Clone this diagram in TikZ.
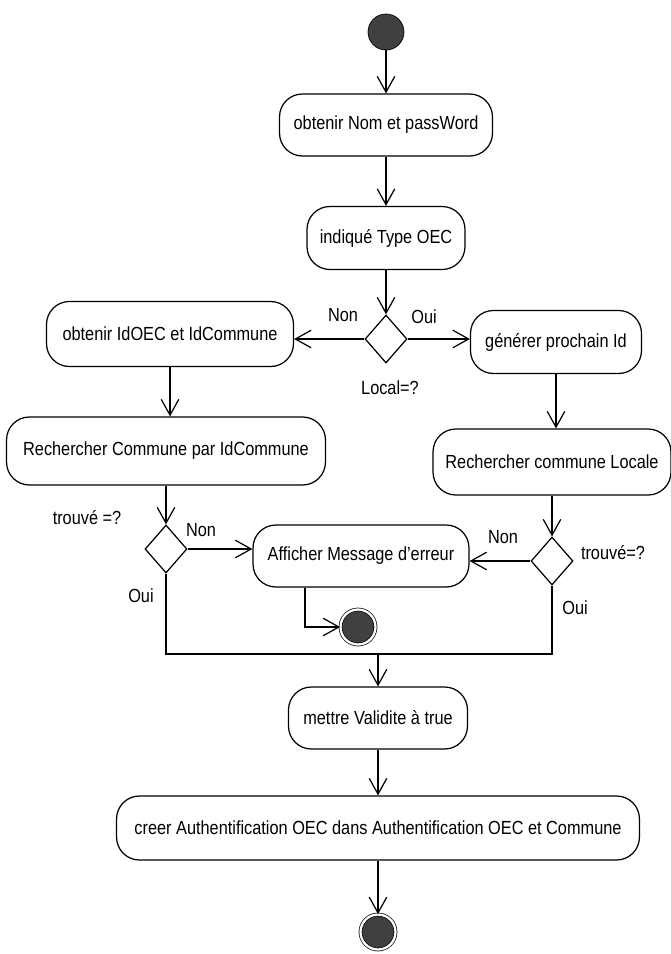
\documentclass[tikz,border=0pt]{standalone}
\usepackage{fontspec}
\setmainfont{Liberation Sans}[FakeStretch=0.86]
\usetikzlibrary{shapes.geometric,arrows.meta}

\begin{document}
\begin{tikzpicture}[x=0.02cm,y=-0.02cm,
	activite/.style={draw,rectangle,rounded corners=13pt,line width=0.7pt,font=\fontsize{10.8}{13}\selectfont,inner sep=2pt},
	choix/.style={draw,diamond,line width=0.7pt,minimum width=0.84cm,minimum height=0.96cm,inner sep=0pt},
	debut/.style={circle,draw=black,fill=black!75,minimum size=0.72cm,inner sep=0pt},
	fin/.style={circle,draw=black,fill=black!75,double=white,double distance=1.3pt,minimum size=0.7cm,inner sep=0pt},
	fleche/.style={line width=0.7pt,-{Straight Barb[length=9pt,width=10pt]}},
	trait/.style={line width=0.7pt},
	etiq/.style={font=\fontsize{10.8}{13}\selectfont}]

	% the page, in pixels of the original (x to the right, y downwards)
	\useasboundingbox (0,0) rectangle (670,954);

	% main column
	\node[debut] (debut) at (386,32) {};
	\node[activite,minimum width=4.26cm,minimum height=1.24cm] (nom) at (386,125) {obtenir Nom et passWord};
	\node[activite,minimum width=3.16cm,minimum height=1.26cm] (type) at (386,238) {indiqué Type OEC};
	\node[choix] (local) at (386,339) {};

	% left branch
	\node[activite,minimum width=4.94cm,minimum height=1.30cm] (idoec) at (170,334) {obtenir IdOEC et IdCommune};
	\node[activite,minimum width=6.38cm,minimum height=1.36cm] (rechid) at (166,451) {Rechercher Commune par IdCommune};
	\node[choix] (trouveA) at (166,549) {};

	% right branch
	\node[activite,minimum width=3.42cm,minimum height=1.26cm] (genid) at (556,342) {générer prochain Id};
	\node[activite,minimum width=4.76cm,minimum height=1.32cm] (rechloc) at (552,462) {Rechercher commune Locale};
	\node[choix] (trouveB) at (552,561) {};

	% error
	\node[activite,minimum width=4.32cm,minimum height=1.24cm] (erreur) at (361,556) {Afficher Message d'erreur};
	\node[fin] (finerreur) at (358,627) {};

	% end of the flow
	\coordinate (jonction) at (378,654);
	\node[activite,minimum width=3.58cm,minimum height=1.24cm] (valide) at (378,718) {mettre Validite à true};
	\node[activite,minimum width=10.46cm,minimum height=1.28cm] (creer) at (378,828) {creer Authentification OEC dans Authentification OEC et Commune};
	\node[fin] (fin) at (378,932) {};

	% guards
	\node[etiq] (nonA) at (343,315) {Non};
	\node[etiq] (ouiA) at (424,317) {Oui};
	\node[etiq] (qlocal) at (390,388) {Local=?};
	\node[etiq] (qtrouveA) at (87,518) {trouvé =?};
	\node[etiq] (nonB) at (201,530) {Non};
	\node[etiq] (ouiB) at (141,596) {Oui};
	\node[etiq] (nonC) at (503,537) {Non};
	\node[etiq] (qtrouveB) at (613,553) {trouvé=?};
	\node[etiq] (ouiC) at (575,608) {Oui};

	% transitions
	\draw[fleche] (debut) -- (nom);
	\draw[fleche] (nom) -- (type);
	\draw[fleche] (type) -- (local);
	\draw[fleche] (local.west) -- (local.west -| idoec.east);
	\draw[fleche] (local.east) -- (local.east -| genid.west);
	\draw[fleche] (idoec.south) -- (idoec.south |- rechid.north);
	\draw[fleche] (genid.south) -- (genid.south |- rechloc.north);
	\draw[fleche] (rechid) -- (trouveA);
	\draw[fleche] (rechloc) -- (trouveB);
	\draw[fleche] (trouveA.east) -- (trouveA.east -| erreur.west);
	\draw[fleche] (trouveB.west) -- (trouveB.west -| erreur.east);
	\draw[fleche] ([xshift=-1.12cm]erreur.south) |- (finerreur);
	\draw[trait] (trouveA.south) |- (jonction) -| (trouveB.south);
	\draw[fleche] (jonction) -- (valide);
	\draw[fleche] (valide) -- (creer);
	\draw[fleche] (creer) -- (fin);

\end{tikzpicture}
\end{document}
